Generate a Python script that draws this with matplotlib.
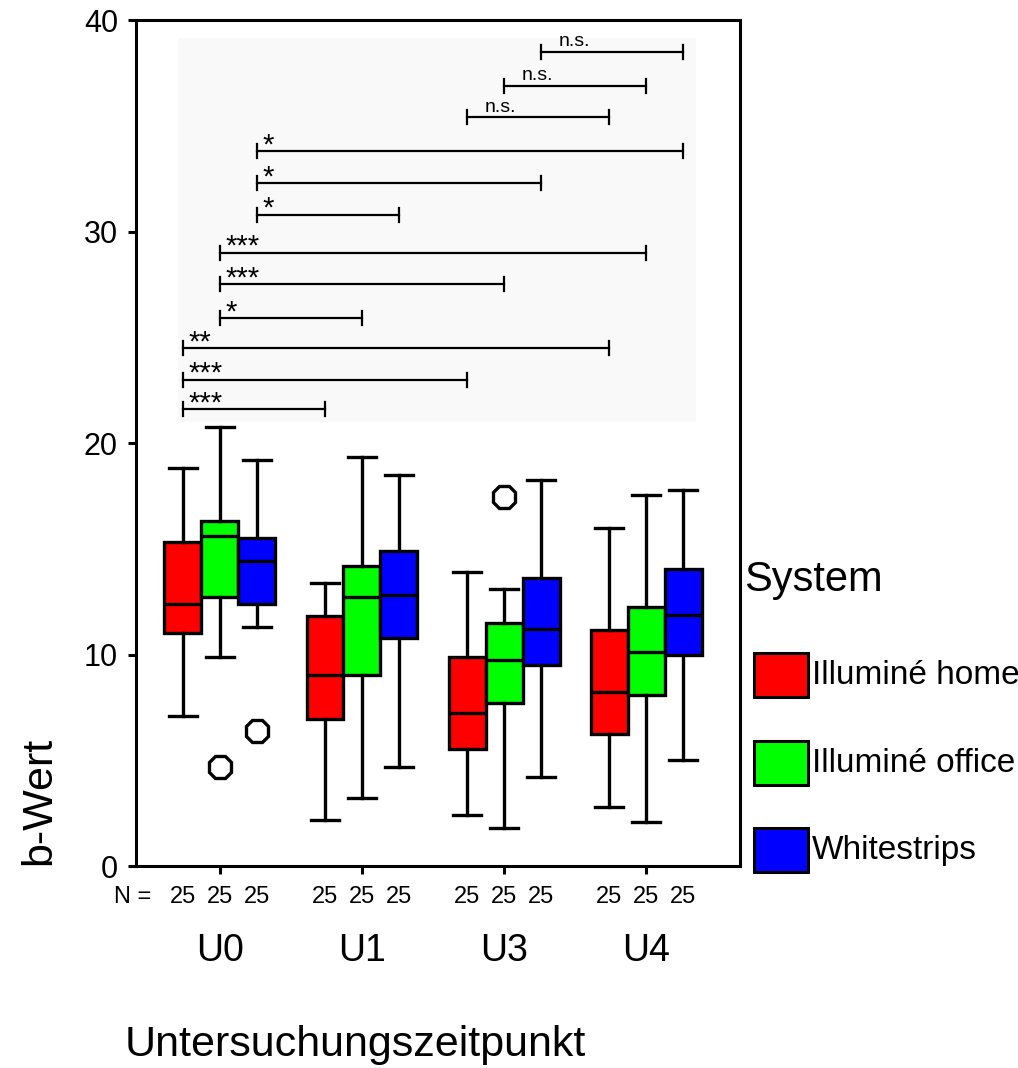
import matplotlib.pyplot as plt
from matplotlib.patches import Rectangle

plt.rcParams['font.family'] = ['Liberation Sans', 'DejaVu Sans']

# Daten
zeitpunkte = ['U0', 'U1', 'U3', 'U4']
systeme = ['Illuminé home', 'Illuminé office', 'Whitestrips']
farben = ['#ff0000', '#00ff00', '#0000ff']
n_werte = [25, 25, 25]

home_whislo = [7.1, 2.2, 2.4, 2.8]
home_q1 = [11.0, 6.95, 5.55, 6.25]
home_med = [12.4, 9.05, 7.25, 8.25]
home_q3 = [15.3, 11.8, 9.9, 11.15]
home_whishi = [18.8, 13.4, 13.9, 16.0]
home_fliers = [[], [], [], []]

office_whislo = [9.9, 3.2, 1.8, 2.1]
office_q1 = [12.7, 9.05, 7.7, 8.1]
office_med = [15.6, 12.7, 9.75, 10.1]
office_q3 = [16.3, 14.2, 11.5, 12.25]
office_whishi = [20.75, 19.35, 13.1, 17.55]
office_fliers = [[4.7], [], [17.45], []]

white_whislo = [11.3, 4.7, 4.2, 5.0]
white_q1 = [12.4, 10.8, 9.5, 10.0]
white_med = [14.4, 12.8, 11.2, 11.85]
white_q3 = [15.5, 14.9, 13.6, 14.05]
white_whishi = [19.2, 18.5, 18.25, 17.8]
white_fliers = [[6.4], [], [], []]

# Signifikanzen: (Zeitpunkt a, Zeitpunkt b, System, Höhe, Label)
vergleiche = [
    (0, 1, 0, 21.6, '***'),
    (0, 2, 0, 23.0, '***'),
    (0, 3, 0, 24.5, '**'),
    (0, 1, 1, 25.9, '*'),
    (0, 2, 1, 27.5, '***'),
    (0, 3, 1, 29.0, '***'),
    (0, 1, 2, 30.8, '*'),
    (0, 2, 2, 32.3, '*'),
    (0, 3, 2, 33.8, '*'),
    (2, 3, 0, 35.4, 'n.s.'),
    (2, 3, 1, 36.9, 'n.s.'),
    (2, 3, 2, 38.5, 'n.s.'),
]

alle = [
    (home_whislo, home_q1, home_med, home_q3, home_whishi, home_fliers),
    (office_whislo, office_q1, office_med, office_q3, office_whishi, office_fliers),
    (white_whislo, white_q1, white_med, white_q3, white_whishi, white_fliers),
]

versatz = [-0.26, 0.0, 0.26]
breite = 0.26

fig = plt.figure(figsize=(10.18, 10.68), dpi=100)
ax = fig.add_axes([0.1336, 0.1891, 0.5933, 0.7921])

# heller Hintergrund hinter den Klammern
ax.add_patch(Rectangle((0.0695, 0.5245), 0.858, 0.4545, transform=ax.transAxes,
                       facecolor='#f9f9f9', edgecolor='none', zorder=0))

for s, (wlo, q1, med, q3, whi, fl) in enumerate(alle):
    stats = []
    for g in range(len(zeitpunkte)):
        stats.append({'whislo': wlo[g], 'q1': q1[g], 'med': med[g], 'q3': q3[g],
                      'whishi': whi[g], 'fliers': fl[g]})
    pos = [g + versatz[s] for g in range(len(zeitpunkte))]
    ax.bxp(stats, positions=pos, widths=breite, capwidths=0.2, patch_artist=True,
           showfliers=True, manage_ticks=False,
           boxprops=dict(facecolor=farben[s], edgecolor='black', linewidth=2.4),
           medianprops=dict(color='black', linewidth=2.4),
           whiskerprops=dict(color='black', linewidth=2.4),
           capprops=dict(color='black', linewidth=2.4),
           flierprops=dict(marker='8', markersize=17, markerfacecolor='none',
                           markeredgecolor='black', markeredgewidth=2.4))

# Signifikanzklammern
for a, b, s, h, lab in vergleiche:
    x1 = a + versatz[s]
    x2 = b + versatz[s]
    ax.plot([x1, x2], [h, h], color='black', lw=1.6, zorder=3)
    ax.plot([x1, x1], [h - 0.33, h + 0.33], color='black', lw=1.6, zorder=3)
    ax.plot([x2, x2], [h - 0.33, h + 0.33], color='black', lw=1.6, zorder=3)
    if lab == 'n.s.':
        ax.annotate(lab, (x1, h), xytext=(13, 1), textcoords='offset points',
                    fontsize=14, ha='left', va='bottom')
    else:
        ax.annotate(lab, (x1, h), xytext=(4, -6), textcoords='offset points',
                    fontsize=21, ha='left', va='bottom')

ax.set_xlim(-0.59, 3.66)
ax.set_ylim(0, 40)
ax.set_yticks([0, 10, 20, 30, 40])
ax.set_xticks(range(len(zeitpunkte)))
ax.set_xticklabels(zeitpunkte, fontsize=27)
ax.tick_params(axis='x', length=6, width=2.2, pad=42)
ax.tick_params(axis='y', length=6, width=2.2, pad=7, labelsize=22)
for sp in ax.spines.values():
    sp.set_linewidth(2.2)

# N-Angaben unter der Achse
trans = ax.get_xaxis_transform()
for g in range(len(zeitpunkte)):
    for s in range(len(systeme)):
        ax.text(g + versatz[s], -0.037, str(n_werte[s]), transform=trans,
                ha='center', va='center', fontsize=17)
ax.text(-0.48, -0.037, 'N =', transform=trans, ha='right', va='center', fontsize=17)

fig.text(0.039, 0.25, 'b-Wert', rotation=90, ha='center', va='center', fontsize=31)
fig.text(0.349, 0.022, 'Untersuchungszeitpunkt', ha='center', va='center', fontsize=31)

# Legende
fig.text(0.731, 0.457, 'System', ha='left', va='center', fontsize=30)
leg_y = [675, 763, 850]
for s in range(len(systeme)):
    yc = 1 - leg_y[s] / 1068
    fig.patches.append(Rectangle((754 / 1018, yc - 22 / 1068), 54 / 1018, 44 / 1068,
                                 transform=fig.transFigure, facecolor=farben[s],
                                 edgecolor='black', linewidth=2.2))
    fig.text(812 / 1018, yc, systeme[s], ha='left', va='center', fontsize=24)

fig.savefig('out.png', dpi=100)
